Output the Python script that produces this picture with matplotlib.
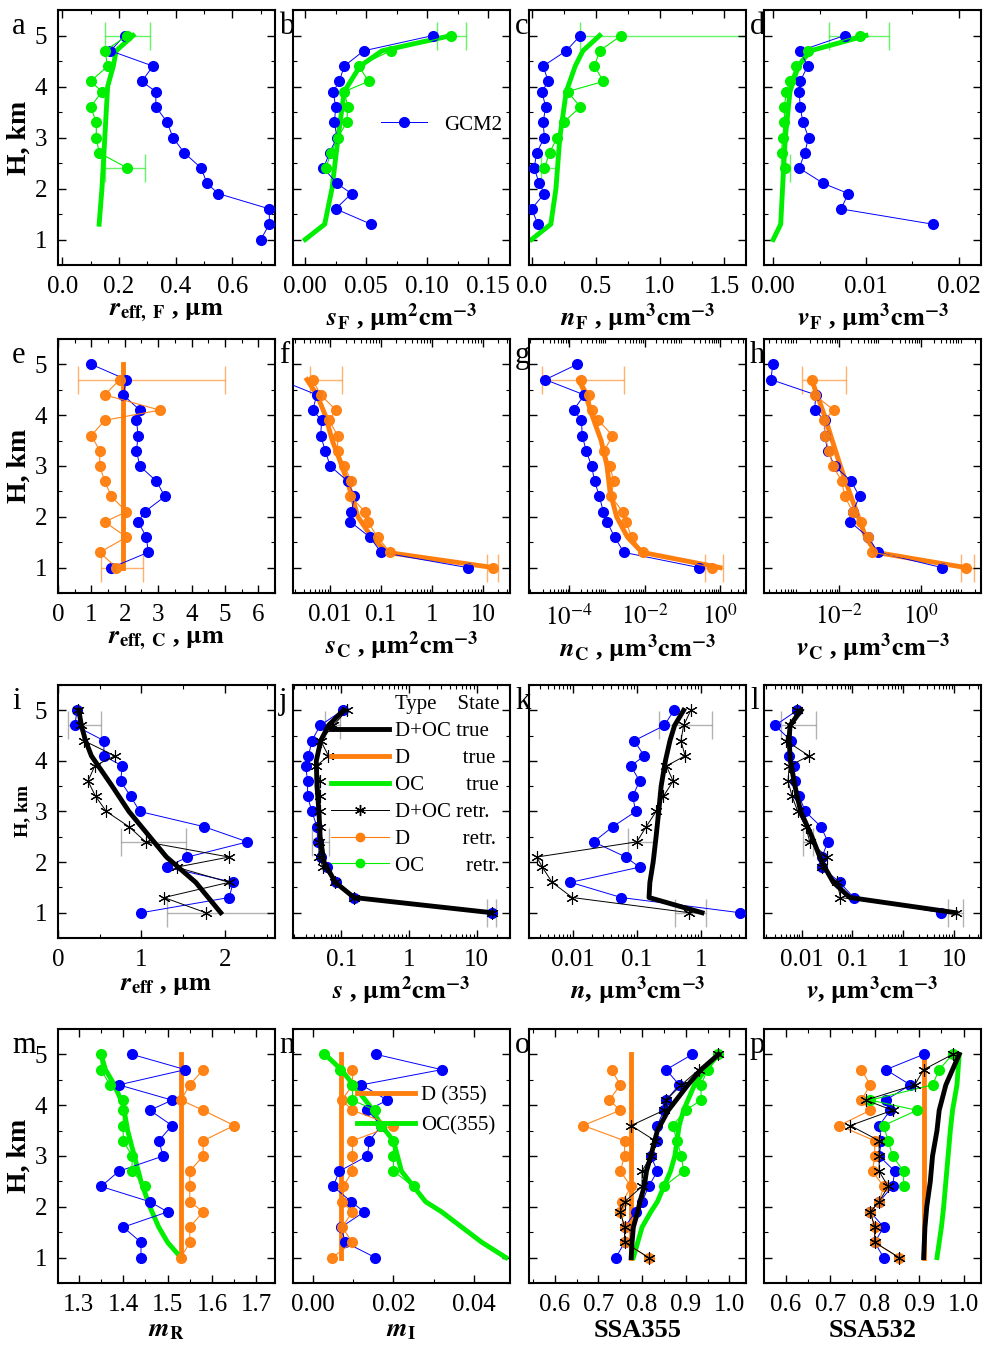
import numpy as np
import matplotlib.pyplot as plt
from matplotlib.ticker import FixedLocator, FixedFormatter, LogLocator, NullFormatter, MultipleLocator

plt.rcParams['font.family'] = ['Liberation Serif', 'DejaVu Serif']
plt.rcParams['mathtext.fontset'] = 'stix'
plt.rcParams['font.size'] = 15
plt.rcParams['xtick.direction'] = 'in'
plt.rcParams['ytick.direction'] = 'in'
plt.rcParams['xtick.top'] = True
plt.rcParams['ytick.right'] = True

BLUE = '#0000ff'
GREEN = '#00ee00'
ORANGE = '#ff7f0e'

H = [1.0, 1.3, 1.6, 1.9, 2.1, 2.4, 2.7, 3.0, 3.3, 3.6, 3.9, 4.1, 4.4, 4.7, 5.0]
H_up = H[5:]      # retrieved OC from 2.4 km
H_d = H[:-1]      # retrieved D up to 4.7 km

# GCM2 (blue) for every panel
gcm2 = {
    'a': [0.70, 0.73, 0.73, 0.55, 0.51, 0.49, 0.43, 0.39, 0.37, 0.33, 0.33, 0.28, 0.32, 0.17, 0.22],
    'b': [None, 0.054, 0.025, 0.038, 0.026, 0.015, 0.020, 0.026, 0.024, 0.025, 0.023, 0.028, 0.032, 0.048, 0.105],
    'c': [None, 0.05, 0.0, 0.10, 0.06, 0.02, 0.04, 0.10, 0.09, 0.11, 0.08, 0.13, 0.09, 0.27, 0.38],
    'd': [None, 0.0172, 0.0073, 0.0081, 0.0054, 0.0028, 0.0034, 0.0038, 0.0032, 0.0029, 0.0028, 0.0029, 0.0037, 0.0029, 0.0077],
    'e': [1.6, 2.7, 2.65, 2.4, 2.6, 3.2, 2.95, 2.45, 2.35, 2.4, 2.35, 2.45, 1.95, 2.05, 1.0],
    'f': [5.0, 0.10, 0.06, 0.025, 0.026, 0.03, 0.022, 0.010, 0.008, 0.0065, 0.0068, 0.0045, 0.0055, 0.001, 0.0008],
    'g': [0.28, 0.0028, 0.0016, 0.001, 0.0008, 0.00063, 0.00047, 0.00039, 0.00028, 0.00022, 0.00021, 0.00013, 0.00025, 2.3e-5, 0.00016],
    'h': [3.2, 0.09, 0.052, 0.019, 0.022, 0.032, 0.02, 0.008, 0.0054, 0.0046, 0.0046, 0.0026, 0.0028, 2.3e-4, 2.5e-4],
    'i': [1.0, 2.05, 2.1, 1.3, 1.55, 2.27, 1.75, 0.98, 0.87, 0.75, 0.77, 0.55, 0.55, 0.2, 0.23],
    'j': [16.6, 0.155, 0.085, 0.062, 0.051, 0.045, 0.044, 0.037, 0.032, 0.032, 0.030, 0.033, 0.037, 0.049, 0.105],
    'k': [4.1, 0.057, 0.0091, 0.11, 0.067, 0.021, 0.042, 0.096, 0.086, 0.11, 0.081, 0.13, 0.091, 0.27, 0.38],
    'l': [5.6, 0.106, 0.056, 0.025, 0.025, 0.033, 0.024, 0.0118, 0.009, 0.0074, 0.0072, 0.0056, 0.0062, 0.003, 0.0082],
    'm': [1.44, 1.44, 1.40, 1.50, 1.46, 1.35, 1.39, 1.49, 1.48, 1.51, 1.46, 1.51, 1.39, 1.54, 1.42],
    'n': [0.0155, 0.008, 0.007, 0.0127, 0.0095, 0.005, 0.0065, 0.0135, 0.014, 0.017, 0.0135, 0.0185, 0.012, 0.032, 0.0157],
    'o': [0.74, 0.76, 0.76, 0.785, 0.80, 0.815, 0.835, 0.82, 0.835, 0.835, 0.85, 0.855, 0.885, 0.855, 0.915],
    'p': [0.82, 0.80, 0.82, 0.79, 0.81, 0.84, 0.845, 0.81, 0.815, 0.81, 0.835, 0.825, 0.88, 0.825, 0.91],
}

# retrieved OC (green), heights H_up
oc_retr = {
    'a': [0.23, 0.13, 0.12, 0.12, 0.10, 0.14, 0.10, 0.16, 0.15, 0.23],
    'b': [0.017, 0.021, 0.027, 0.034, 0.035, 0.032, 0.052, 0.044, 0.070, 0.120],
    'c': [0.10, 0.14, 0.20, 0.25, 0.38, 0.28, 0.56, 0.49, 0.53, 0.70],
    'd': [0.0013, 0.0009, 0.0010, 0.0012, 0.0012, 0.0014, 0.0018, 0.0025, 0.0037, 0.0093],
    'm': [1.45, 1.42, 1.42, 1.40, 1.40, 1.40, 1.40, 1.37, 1.35, 1.35],
    'n': [0.025, 0.020, 0.020, 0.020, 0.017, 0.0155, 0.0098, 0.0098, 0.0068, 0.0028],
    'o': [0.85, 0.895, 0.89, 0.88, 0.87, 0.90, 0.935, 0.935, 0.95, 0.975],
    'p': [0.865, 0.865, 0.84, 0.83, 0.82, 0.895, 0.79, 0.93, 0.945, 0.975],
}

# retrieved D (orange), heights H_d
d_retr = {
    'e': [1.75, 1.25, 2.05, 1.4, 2.05, 1.6, 1.4, 1.25, 1.25, 1.0, 1.4, 3.05, 1.4, 1.85],
    'f': [16, 0.15, 0.085, 0.055, 0.048, 0.025, 0.026, 0.019, 0.014, 0.014, 0.0095, 0.013, 0.0065, 0.0045],
    'g': [0.62, 0.0093, 0.0045, 0.0032, 0.0026, 0.0013, 0.0015, 0.0012, 0.00085, 0.0014, 0.00059, 0.00039, 0.00034, 0.0002],
    'h': [12, 0.063, 0.052, 0.034, 0.022, 0.014, 0.012, 0.0072, 0.0058, 0.0046, 0.0044, 0.0076, 0.0026, 0.0022],
    'm': [1.53, 1.55, 1.55, 1.58, 1.55, 1.55, 1.55, 1.58, 1.58, 1.65, 1.58, 1.53, 1.55, 1.58],
    'n': [0.0048, 0.0098, 0.0072, 0.0098, 0.0072, 0.0075, 0.0098, 0.0098, 0.0098, 0.020, 0.0098, 0.0072, 0.0098, 0.0098],
    'o': [0.815, 0.76, 0.76, 0.75, 0.755, 0.775, 0.75, 0.76, 0.76, 0.665, 0.75, 0.725, 0.75, 0.73],
    'p': [0.855, 0.80, 0.80, 0.79, 0.81, 0.82, 0.795, 0.80, 0.80, 0.72, 0.79, 0.77, 0.79, 0.77],
}

# retrieved D+OC (black stars), heights H
doc_retr = {
    'i': [1.77, 1.27, 2.05, 1.42, 2.05, 1.05, 0.85, 0.58, 0.45, 0.36, 0.44, 0.68, 0.31, 0.27, 0.24],
    'j': [16.6, 0.155, 0.082, 0.054, 0.047, 0.047, 0.049, 0.048, 0.048, 0.049, 0.043, 0.065, 0.050, 0.077, 0.121],
    'k': [0.66, 0.0097, 0.0047, 0.0033, 0.0027, 0.10, 0.14, 0.20, 0.26, 0.37, 0.29, 0.57, 0.49, 0.54, 0.70],
    'l': [10.7, 0.058, 0.05, 0.025, 0.032, 0.0145, 0.012, 0.0084, 0.0065, 0.0054, 0.0057, 0.014, 0.0049, 0.0059, 0.0083],
    'o': [0.815, 0.76, 0.76, 0.75, 0.76, 0.80, 0.80, 0.82, 0.83, 0.775, 0.85, 0.855, 0.89, 0.93, 0.975],
    'p': [0.855, 0.80, 0.80, 0.79, 0.81, 0.83, 0.81, 0.81, 0.81, 0.745, 0.84, 0.78, 0.89, 0.91, 0.975],
}

# true profiles: (heights, values)
oc_true = {
    'a': ([1.3, 2.0, 3.0, 3.5, 4.0, 4.4, 4.7, 5.0], [0.13, 0.14, 0.15, 0.155, 0.16, 0.18, 0.19, 0.25]),
    'b': ([1.0, 1.3, 2.0, 3.0, 3.9, 4.4, 4.7, 5.0], [0.0, 0.016, 0.022, 0.027, 0.032, 0.045, 0.063, 0.12]),
    'c': ([1.0, 1.3, 2.0, 3.0, 3.9, 4.4, 4.7, 5.0], [0.0, 0.15, 0.19, 0.22, 0.27, 0.34, 0.40, 0.53]),
    'd': ([1.0, 1.3, 2.0, 3.0, 3.9, 4.4, 4.7, 5.0], [0.0, 0.0008, 0.001, 0.0013, 0.0018, 0.0027, 0.004, 0.010]),
    'm': ([1.0, 1.3, 1.6, 2.0, 2.5, 3.0, 3.5, 4.0, 4.4, 4.7, 5.0], [1.53, 1.50, 1.48, 1.46, 1.44, 1.425, 1.41, 1.40, 1.38, 1.36, 1.35]),
    'n': ([1.0, 1.3, 1.6, 1.9, 2.1, 2.4, 2.7, 3.0, 3.3, 3.6, 4.0, 4.4, 4.7, 5.0],
          [0.048, 0.042, 0.037, 0.032, 0.028, 0.025, 0.022, 0.021, 0.020, 0.017, 0.014, 0.010, 0.007, 0.003]),
    'o': ([1.0, 1.3, 1.6, 1.9, 2.1, 2.4, 2.7, 3.0, 3.3, 3.6, 3.9, 4.4, 4.7, 5.0],
          [0.78, 0.79, 0.80, 0.82, 0.835, 0.85, 0.865, 0.875, 0.88, 0.885, 0.895, 0.92, 0.945, 0.975]),
    'p': ([1.0, 1.6, 2.0, 2.5, 3.0, 3.5, 3.9, 4.4, 5.0], [0.94, 0.95, 0.955, 0.96, 0.965, 0.97, 0.975, 0.985, 0.99]),
}
d_true = {
    'e': ([1.0, 5.0], [1.95, 1.95]),
    'f': ([1.0, 1.3, 1.6, 2.0, 2.5, 3.0, 3.5, 4.0, 4.4, 4.7], [16, 0.13, 0.065, 0.035, 0.025, 0.017, 0.011, 0.008, 0.0055, 0.0035]),
    'g': ([1.0, 1.3, 1.6, 2.0, 2.5, 3.0, 3.5, 4.0, 4.4, 4.7], [1.0, 0.0085, 0.0035, 0.0018, 0.0012, 0.0010, 0.0007, 0.0004, 0.00027, 0.00018]),
    'h': ([1.0, 1.3, 1.6, 2.0, 2.5, 3.0, 3.5, 4.0, 4.4, 4.7], [12, 0.08, 0.045, 0.03, 0.018, 0.011, 0.007, 0.0045, 0.003, 0.0022]),
    'm': ([1.0, 5.0], [1.53, 1.53]),
    'n': ([1.0, 5.0], [0.007, 0.007]),
    'o': ([1.0, 5.0], [0.775, 0.775]),
    'p': ([1.0, 5.0], [0.91, 0.91]),
}
doc_true = {
    'i': ([1.0, 1.6, 2.1, 2.7, 3.0, 3.5, 4.1, 4.4, 4.7, 5.0], [1.95, 1.65, 1.3, 1.0, 0.85, 0.65, 0.4, 0.33, 0.28, 0.25]),
    'j': ([1.0, 1.3, 1.6, 2.0, 2.5, 3.0, 3.5, 4.0, 4.4, 4.7, 5.0], [16.6, 0.155, 0.082, 0.056, 0.049, 0.047, 0.044, 0.043, 0.050, 0.065, 0.108]),
    'k': ([1.0, 1.3, 1.6, 2.0, 2.5, 3.0, 3.5, 4.0, 4.4, 4.7, 5.0], [1.05, 0.155, 0.16, 0.18, 0.20, 0.22, 0.24, 0.28, 0.33, 0.39, 0.54]),
    'l': ([1.0, 1.3, 1.6, 2.0, 2.5, 3.0, 3.5, 4.0, 4.4, 4.7, 5.0], [10.7, 0.089, 0.042, 0.025, 0.016, 0.0096, 0.0074, 0.006, 0.0057, 0.0059, 0.0098]),
    'o': ([1.0, 1.3, 1.6, 1.9, 2.1, 2.4, 2.7, 3.0, 3.5, 3.9, 4.4, 4.7, 5.0],
          [0.775, 0.777, 0.78, 0.79, 0.795, 0.805, 0.81, 0.82, 0.835, 0.86, 0.905, 0.935, 0.975]),
    'p': ([1.0, 1.6, 2.0, 2.5, 3.0, 3.5, 3.9, 4.4, 4.7, 5.0], [0.91, 0.913, 0.917, 0.925, 0.93, 0.94, 0.945, 0.96, 0.975, 0.99]),
}

# error bars: panel -> list of (height, xlow, xhigh, colour)
errs = {
    'a': [(5.0, 0.15, 0.31, GREEN), (2.4, 0.15, 0.29, GREEN)],
    'b': [(5.0, 0.108, 0.132, GREEN)],
    'c': [(5.0, 0.38, 1.67, GREEN), (2.4, 0.07, 0.20, GREEN)],
    'd': [(5.0, 0.006, 0.0125, GREEN), (2.4, 0.0008, 0.0018, GREEN)],
    'e': [(4.7, 0.6, 5.0, ORANGE), (1.0, 1.3, 2.55, ORANGE)],
    'f': [(4.7, 0.004, 0.017, ORANGE), (1.0, 12, 20, ORANGE)],
    'g': [(4.7, 1.9e-5, 0.0028, ORANGE), (1.0, 0.4, 1.2, ORANGE)],
    'h': [(4.7, 0.0013, 0.015, ORANGE), (1.0, 9, 18.6, ORANGE)],
    'i': [(4.7, 0.12, 0.52, 'gray'), (2.4, 0.75, 1.53, 'gray'), (1.0, 1.3, 2.6, 'gray')],
    'j': [(4.7, 0.058, 0.095, 'gray'), (2.4, 0.037, 0.067, 'gray'), (1.0, 14, 19, 'gray')],
    'k': [(4.7, 0.22, 1.5, 'gray'), (2.4, 0.073, 0.19, 'gray'), (1.0, 0.39, 1.2, 'gray')],
    'l': [(4.7, 0.004, 0.019, 'gray'), (2.4, 0.0105, 0.0165, 'gray'), (1.0, 7.5, 15, 'gray')],
}

# x axis settings: xlim, log?, major ticks, tick labels, minor step
xset = {
    'a': ((-0.015, 0.75), False, [0.0, 0.2, 0.4, 0.6], ['0.0', '0.2', '0.4', '0.6'], 0.1),
    'b': ((-0.01, 0.168), False, [0.0, 0.05, 0.10, 0.15], ['0.00', '0.05', '0.10', '0.15'], 0.025),
    'c': ((-0.02, 1.67), False, [0.0, 0.5, 1.0, 1.5], ['0.0', '0.5', '1.0', '1.5'], 0.25),
    'd': ((-0.001, 0.0224), False, [0.0, 0.01, 0.02], ['0.00', '0.01', '0.02'], 0.005),
    'e': ((0, 6.5), False, [0, 1, 2, 3, 4, 5, 6], ['0', '1', '2', '3', '4', '5', '6'], 0.5),
    'f': ((10**-2.73, 10**1.53), True, [0.01, 0.1, 1, 10], ['0.01', '0.1', '1', '10'], None),
    'g': ((10**-5.07, 10**0.69), True, [1e-4, 1e-2, 1], [r'$10^{-4}$', r'$10^{-2}$', r'$10^{0}$'], None),
    'h': ((10**-3.81, 10**1.45), True, [1e-2, 1], [r'$10^{-2}$', r'$10^{0}$'], None),
    'i': ((0, 2.6), False, [0, 1, 2], ['0', '1', '2'], 0.5),
    'j': ((10**-1.71, 10**1.49), True, [0.1, 1, 10], ['0.1', '1', '10'], None),
    'k': ((10**-2.69, 10**0.71), True, [0.01, 0.1, 1], ['0.01', '0.1', '1'], None),
    'l': ((10**-2.74, 10**1.53), True, [0.01, 0.1, 1, 10], ['0.01', '0.1', '1', '10'], None),
    'm': ((1.253, 1.742), False, [1.3, 1.4, 1.5, 1.6, 1.7], ['1.3', '1.4', '1.5', '1.6', '1.7'], 0.05),
    'n': ((-0.005, 0.049), False, [0.0, 0.02, 0.04], ['0.00', '0.02', '0.04'], 0.01),
    'o': ((0.541, 1.038), False, [0.6, 0.7, 0.8, 0.9, 1.0], ['0.6', '0.7', '0.8', '0.9', '1.0'], 0.05),
    'p': ((0.551, 1.039), False, [0.6, 0.7, 0.8, 0.9, 1.0], ['0.6', '0.7', '0.8', '0.9', '1.0'], 0.05),
}

UM = r'$\mathbf{\mu m}$'
xlabels = {
    'a': r'$\mathbfit{r}_{\mathbf{eff,\ F}}$ , ' + UM,
    'b': r'$\mathbfit{s}_{\mathbf{F}}$ , $\mathbf{\mu m^{2}cm^{-3}}$',
    'c': r'$\mathbfit{n}_{\mathbf{F}}$ , $\mathbf{\mu m^{3}cm^{-3}}$',
    'd': r'$\mathbfit{v}_{\mathbf{F}}$ , $\mathbf{\mu m^{3}cm^{-3}}$',
    'e': r'$\mathbfit{r}_{\mathbf{eff,\ C}}$ , ' + UM,
    'f': r'$\mathbfit{s}_{\mathbf{C}}$ , $\mathbf{\mu m^{2}cm^{-3}}$',
    'g': r'$\mathbfit{n}_{\mathbf{C}}$ , $\mathbf{\mu m^{3}cm^{-3}}$',
    'h': r'$\mathbfit{v}_{\mathbf{C}}$ , $\mathbf{\mu m^{3}cm^{-3}}$',
    'i': r'$\mathbfit{r}_{\mathbf{eff}}$ , ' + UM,
    'j': r'$\mathbfit{s}$ , $\mathbf{\mu m^{2}cm^{-3}}$',
    'k': r'$\mathbfit{n}$, $\mathbf{\mu m^{3}cm^{-3}}$',
    'l': r'$\mathbfit{v}$, $\mathbf{\mu m^{3}cm^{-3}}$',
    'm': r'$\mathbfit{m}_{\mathbf{R}}$',
    'n': r'$\mathbfit{m}_{\mathbf{I}}$',
    'o': 'SSA355',
    'p': 'SSA532',
}

cols = [58, 293, 529, 764]
rows = [(10, 265), (339, 593), (685, 938), (1029, 1283)]
W, HH = 994.0, 1349.0

fig = plt.figure(figsize=(9.94, 13.49), dpi=100)

for n, key in enumerate('abcdefghijklmnop'):
    r, c = divmod(n, 4)
    top, bot = rows[r]
    ax = fig.add_axes([cols[c] / W, 1 - bot / HH, 217 / W, (bot - top) / HH])
    lim, logx, ticks, labels, minor = xset[key]
    if logx:
        ax.set_xscale('log')

    # true profiles
    if key in d_true:
        ax.plot(d_true[key][1], d_true[key][0], color=ORANGE, lw=3.5, zorder=2)
    if key in oc_true:
        ax.plot(oc_true[key][1], oc_true[key][0], color=GREEN, lw=3.5, zorder=2)
    if key in doc_true:
        ax.plot(doc_true[key][1], doc_true[key][0], color='black', lw=3.5, zorder=4)

    # GCM2
    xs = [v for v in gcm2[key] if v is not None]
    hs = [h for h, v in zip(H, gcm2[key]) if v is not None]
    ax.plot(xs, hs, '-o', color=BLUE, lw=0.7, ms=7, zorder=3, label='GCM2')

    # retrievals
    if key in d_retr:
        ax.plot(d_retr[key], H_d, '-o', color=ORANGE, lw=0.8, ms=7, alpha=0.95, zorder=3)
    if key in oc_retr:
        ax.plot(oc_retr[key], H_up, '-o', color=GREEN, lw=0.8, ms=7, zorder=3)
    if key in doc_retr:
        ax.plot(doc_retr[key], H, '-', color='black', lw=0.7, marker=(6, 2, 0), ms=9, mew=0.8, zorder=5)

    for h, lo, hi, col in errs.get(key, []):
        mid = np.sqrt(lo * hi) if logx else (lo + hi) / 2
        ax.errorbar([mid], [h], xerr=[[mid - lo], [hi - mid]], fmt='none', ecolor=col,
                    elinewidth=1, capsize=10, alpha=0.6, zorder=1)

    ax.set_xlim(*lim)
    ax.set_ylim(0.5, 5.5)
    ax.xaxis.set_major_locator(FixedLocator(ticks))
    ax.xaxis.set_major_formatter(FixedFormatter(labels))
    if logx:
        ax.xaxis.set_minor_locator(LogLocator(base=10, subs=np.arange(2, 10), numticks=20))
        ax.xaxis.set_minor_formatter(NullFormatter())
    else:
        ax.xaxis.set_minor_locator(MultipleLocator(minor))
    ax.yaxis.set_major_locator(MultipleLocator(1))
    ax.yaxis.set_minor_locator(MultipleLocator(0.5))
    ax.tick_params(which='major', length=6, width=1, labelsize=18, pad=8)
    ax.tick_params(which='minor', length=3, width=0.8)
    for s in ax.spines.values():
        s.set_linewidth(1.5)
    if c == 0:
        ax.set_yticklabels(['', '1', '2', '3', '4', '5'])
        ax.set_ylabel('H, km', fontsize=(14 if r == 2 else 20), fontweight='bold', labelpad=2)
    else:
        ax.set_yticklabels([])
    ax.set_xlabel(xlabels[key], fontsize=19, fontweight='bold', labelpad=2)

    # panel letter
    fig.text((cols[c] - (46 if c == 0 else 14)) / W, 1 - (top + 2) / HH, key,
             fontsize=22, va='top', ha='left')

    if key == 'b':
        ax.legend(loc='center left', bbox_to_anchor=(0.32, 0.55), frameon=False,
                  fontsize=15, handlelength=2.2)
    if key == 'j':
        hl = [plt.Line2D([], [], color='black', lw=3.5),
              plt.Line2D([], [], color=ORANGE, lw=3.5),
              plt.Line2D([], [], color=GREEN, lw=3.5),
              plt.Line2D([], [], color='black', lw=0.7, marker=(6, 2, 0), ms=8),
              plt.Line2D([], [], color=ORANGE, lw=0.8, marker='o', ms=6),
              plt.Line2D([], [], color=GREEN, lw=0.8, marker='o', ms=6)]
        lb = ['D+OC true', 'D          true', 'OC        true',
              'D+OC retr.', 'D          retr.', 'OC        retr.']
        leg = ax.legend(hl, lb, title='Type    State', loc='upper right', frameon=False,
                        fontsize=15, title_fontsize=15, handlelength=2.8,
                        labelspacing=0.35, borderaxespad=0.1, handletextpad=0.3)
        leg._legend_box.align = 'right'
    if key == 'n':
        hl = [plt.Line2D([], [], color=ORANGE, lw=3.5), plt.Line2D([], [], color=GREEN, lw=3.5)]
        ax.legend(hl, ['D (355)', 'OC(355)'], loc='upper right', bbox_to_anchor=(1.02, 0.85),
                  frameon=False, fontsize=15, handlelength=2.8, handletextpad=0.3)

fig.savefig('out.png', dpi=100)
